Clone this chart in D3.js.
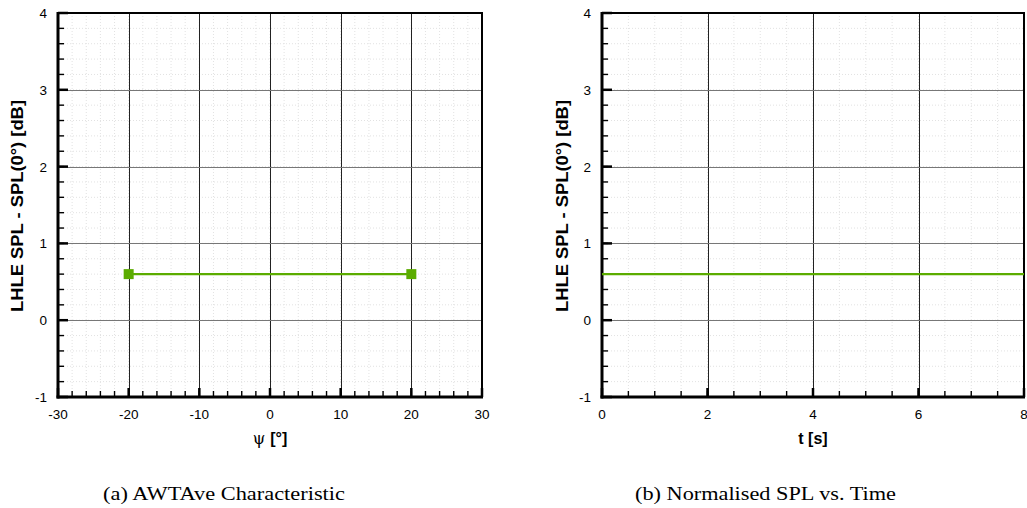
<!DOCTYPE html>
<html>
<head>
<meta charset="utf-8">
<script src="https://cdn.jsdelivr.net/npm/d3@7/dist/d3.min.js"></script>
<style>
  html, body { margin: 0; padding: 0; background: #fff; }
  svg { display: block; }
</style>
</head>
<body>
<svg id="chart" width="1027" height="508"></svg>
<script>
// ---- Data ----
const yTicks = [-1, 0, 1, 2, 3, 4];
const psiTicks = [-30, -20, -10, 0, 10, 20, 30];
const timeTicks = [0, 2, 4, 6, 8];
const psiValues = [-20, 20];
const awtaveSPL = [0.6, 0.6];
const timeValues = [0, 8];
const normSPL = [0.6, 0.6];
const yTitle = "LHLE SPL - SPL(0°) [dB]";
const captions = ["(a)  AWTAve Characteristic", "(b)  Normalised SPL vs. Time"];

const svg = d3.select("#chart");
const green = "#5bac00";
const sans = "'Liberation Sans', Arial, Helvetica, sans-serif";

function panel(opts) {
  const { left, right, top, bottom, xDomain, xTicks, xMinorStep, xs, ys, markers, xTitle, yTitleX } = opts;
  const x = d3.scaleLinear().domain(xDomain).range([left, right]);
  const y = d3.scaleLinear().domain([-1, 4]).range([bottom, top]);
  const g = svg.append("g");

  const xMinor = d3.range(xDomain[0], xDomain[1] + 1e-9, xMinorStep);
  const yMinor = d3.range(-1, 4 + 1e-9, 0.2);

  // minor dotted grid
  g.selectAll(".mgx").data(xMinor).enter().append("line")
    .attr("x1", d => x(d)).attr("x2", d => x(d)).attr("y1", top).attr("y2", bottom)
    .attr("stroke", "#e2e2e2").attr("stroke-width", 1).attr("stroke-dasharray", "1,2");
  g.selectAll(".mgy").data(yMinor).enter().append("line")
    .attr("y1", d => y(d)).attr("y2", d => y(d)).attr("x1", left).attr("x2", right)
    .attr("stroke", "#e2e2e2").attr("stroke-width", 1).attr("stroke-dasharray", "1,2");

  // major grid
  g.selectAll(".gx").data(xTicks).enter().append("line")
    .attr("x1", d => Math.round(x(d)) + 0.5).attr("x2", d => Math.round(x(d)) + 0.5)
    .attr("y1", top).attr("y2", bottom)
    .attr("stroke", "#222").attr("stroke-width", 1);
  g.selectAll(".gy").data(yTicks).enter().append("line")
    .attr("y1", d => Math.round(y(d)) + 0.5).attr("y2", d => Math.round(y(d)) + 0.5)
    .attr("x1", left).attr("x2", right)
    .attr("stroke", "#777").attr("stroke-width", 1);

  // frame
  g.append("rect").attr("x", left).attr("y", top).attr("width", right - left).attr("height", bottom - top)
    .attr("fill", "none").attr("stroke", "#000").attr("stroke-width", 2);
  g.append("line").attr("x1", left).attr("x2", left).attr("y1", top - 1).attr("y2", bottom + 1.5)
    .attr("stroke", "#000").attr("stroke-width", 3);
  g.append("line").attr("x1", left - 1.5).attr("x2", right + 1).attr("y1", bottom).attr("y2", bottom)
    .attr("stroke", "#000").attr("stroke-width", 3);

  // ticks y
  g.selectAll(".mty").data(yMinor).enter().append("line")
    .attr("y1", d => y(d)).attr("y2", d => y(d)).attr("x1", left).attr("x2", left + 6)
    .attr("stroke", "#000").attr("stroke-width", 1.4);
  g.selectAll(".ty").data(yTicks).enter().append("line")
    .attr("y1", d => y(d)).attr("y2", d => y(d)).attr("x1", left).attr("x2", left + 10)
    .attr("stroke", "#000").attr("stroke-width", 2.5);
  // ticks x
  g.selectAll(".mtx").data(xMinor).enter().append("line")
    .attr("x1", d => x(d)).attr("x2", d => x(d)).attr("y1", bottom).attr("y2", bottom - 6)
    .attr("stroke", "#000").attr("stroke-width", 1.4);
  g.selectAll(".tx").data(xTicks).enter().append("line")
    .attr("x1", d => x(d)).attr("x2", d => x(d)).attr("y1", bottom).attr("y2", bottom - 9)
    .attr("stroke", "#000").attr("stroke-width", 2.5);

  // tick labels
  g.selectAll(".ly").data(yTicks).enter().append("text")
    .attr("x", left - 11).attr("y", d => y(d) + 5)
    .attr("text-anchor", "end").attr("font-family", sans)
    .attr("font-size", 13.5).attr("fill", "#000").text(d => d);
  g.selectAll(".lx").data(xTicks).enter().append("text")
    .attr("x", d => x(d)).attr("y", bottom + 22)
    .attr("text-anchor", "middle").attr("font-family", sans)
    .attr("font-size", 13.5).attr("fill", "#000").text(d => d);

  // axis titles
  g.append("text").attr("transform", `translate(${yTitleX},${(top + bottom) / 2 + 1}) rotate(-90)`)
    .attr("text-anchor", "middle").attr("font-family", sans)
    .attr("font-weight", "bold").attr("font-size", 16.5).attr("fill", "#000")
    .attr("textLength", 212).attr("lengthAdjust", "spacingAndGlyphs").text(yTitle);
  const xt = g.append("text").attr("x", (left + right) / 2).attr("y", bottom + 47)
    .attr("text-anchor", "middle").attr("font-family", sans)
    .attr("font-size", 16).attr("fill", "#000");
  xTitle(xt);

  // data
  const line = d3.line().x(d => x(d[0])).y(d => y(d[1]));
  const pts = xs.map((v, i) => [v, ys[i]]);
  g.append("path").datum(pts).attr("d", line).attr("fill", "none")
    .attr("stroke", green).attr("stroke-width", 2.2);
  if (markers) {
    g.selectAll(".mk").data(pts).enter().append("rect")
      .attr("x", d => x(d[0]) - 5).attr("y", d => y(d[1]) - 5)
      .attr("width", 10).attr("height", 10).attr("fill", green);
  }
}

panel({
  left: 58, right: 482, top: 13, bottom: 397,
  xDomain: [-30, 30], xTicks: psiTicks, xMinorStep: 2,
  xs: psiValues, ys: awtaveSPL, markers: true, yTitleX: 23,
  xTitle: t => {
    t.append("tspan").attr("font-family", "'DejaVu Serif', 'Liberation Serif', serif").attr("font-size", 16).text("ψ ");
    t.append("tspan").attr("font-weight", "bold").text("[°]");
  }
});
panel({
  left: 602, right: 1024, top: 13, bottom: 397,
  xDomain: [0, 8], xTicks: timeTicks, xMinorStep: 0.5,
  xs: timeValues, ys: normSPL, markers: false, yTitleX: 568,
  xTitle: t => { t.attr("font-weight", "bold").text("t [s]"); }
});

// captions
const capX = [[103, 242], [635, 261]];
captions.forEach((c, i) => {
  svg.append("text").attr("x", capX[i][0]).attr("y", 500)
    .attr("font-family", "'URW Palladio L', Palatino, 'Liberation Serif', serif")
    .attr("font-size", 18.5).attr("fill", "#000")
    .attr("textLength", capX[i][1]).attr("lengthAdjust", "spacingAndGlyphs")
    .text(c);
});
</script>
</body>
</html>
